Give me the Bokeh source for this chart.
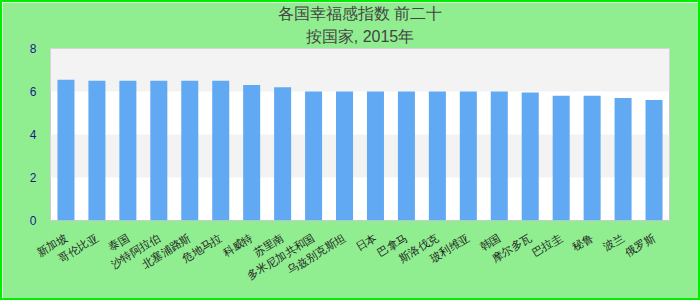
from bokeh.plotting import figure
from bokeh.models import Title, FactorRange, Range1d, FixedTicker
from bokeh.embed import file_html
from bokeh.resources import INLINE

title_main = "各国幸福感指数 前二十"
title_sub = "按国家, 2015年"
countries = ["新加坡", "哥伦比亚", "泰国", "沙特阿拉伯", "北塞浦路斯", "危地马拉", "科威特", "苏里南",
             "多米尼加共和国", "乌兹别克斯坦", "日本", "巴拿马", "斯洛伐克", "玻利维亚", "韩国",
             "摩尔多瓦", "巴拉圭", "秘鲁", "波兰", "俄罗斯"]
scores = [6.55, 6.5, 6.5, 6.5, 6.5, 6.5, 6.3, 6.2, 6.0, 6.0, 6.0, 6.0, 6.0, 6.0, 6.0,
          5.95, 5.8, 5.8, 5.7, 5.6]
y_ticks = [0, 2, 4, 6, 8]

FONT = "Liberation Sans"

p = figure(width=700, height=300, x_range=FactorRange(*countries, range_padding=0),
           y_range=Range1d(0, 8), output_backend="svg", toolbar_location=None,
           min_border_left=48, min_border_right=33, min_border_top=46, min_border_bottom=82)
p.title = None
p.styles = {"border": "2px solid #00ee00", "box-sizing": "border-box"}
p.border_fill_color = "#90EE90"
p.background_fill_color = "white"
p.outline_line_color = "#cccccc"
p.outline_line_width = 1

p.vbar(x=countries, top=scores, width=0.55, color="#62A9F4", line_color=None)

p.xgrid.grid_line_color = None
p.ygrid.grid_line_color = None
p.ygrid.band_fill_color = "#f3f3f3"
p.ygrid.band_fill_alpha = 1.0

p.yaxis.ticker = FixedTicker(ticks=y_ticks)
p.yaxis.axis_line_color = None
p.yaxis.major_tick_line_color = None
p.yaxis.minor_tick_line_color = None
p.yaxis.major_label_text_color = "#1a1a8a"
p.yaxis.major_label_text_font = FONT
p.yaxis.major_label_text_font_size = "12px"
p.yaxis.major_label_standoff = 8

p.xaxis.axis_line_color = None
p.xaxis.major_tick_line_color = None
p.xaxis.major_label_orientation = 0.55
p.xaxis.major_label_text_color = "#222222"
p.xaxis.major_label_text_font = FONT
p.xaxis.major_label_text_font_size = "11px"
p.xaxis.major_label_standoff = 10

sub = Title(text=title_sub, align="center", text_font=FONT, text_font_size="16px",
            text_font_style="normal", text_color="#444444", standoff=8, text_line_height=0.75)
main = Title(text=title_main, align="center", text_font=FONT, text_font_size="16px",
             text_font_style="normal", text_color="#444444", standoff=0, text_line_height=0.75)
p.add_layout(sub, "above")
p.add_layout(main, "above")

open("out.html", "w").write(file_html(p, INLINE))
